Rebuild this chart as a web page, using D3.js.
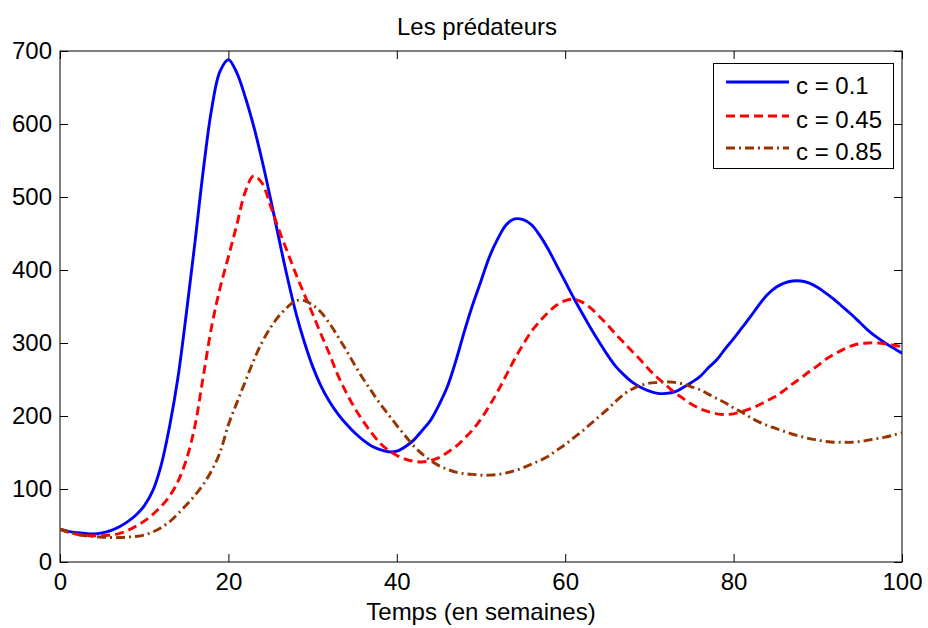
<!DOCTYPE html>
<html><head><meta charset="utf-8">
<script src="https://cdn.jsdelivr.net/npm/d3@7/dist/d3.min.js"></script>
<style>
body{margin:0;background:#fff}
text{font-family:"Liberation Sans",Arial,Helvetica,sans-serif}
</style>
</head><body>
<svg id="chart" width="928" height="628"></svg>
<script>
const weeks = [0,1,2,3,4,5,6,7,8,9,10,11,12,13,14,15,16,17,18,19,20,21,22,23,24,25,26,27,28,29,30,31,32,33,34,35,36,37,38,39,40,41,42,43,44,45,46,47,48,49,50,51,52,53,54,55,56,57,58,59,60,61,62,63,64,65,66,67,68,69,70,71,72,73,74,75,76,77,78,79,80,81,82,83,84,85,86,87,88,89,90,91,92,93,94,95,96,97,98,99,100];
const c010 = [45,42,40,39,38.5,40,43,48,55,64,77,97,132,185,252,340,435,535,620,672,688,670,637,597,550,498,443,390,342,302,268,241,220,203,189,177,167,159,154,151,152,158,167,180,194,215,240,275,315,352,385,418,443,462,470,469,462,447,428,406,384,362,341,321,302,284,268,256,246,239,234,231,231,233,239,246,254,266,277,292,306,321,336,352,366,376,382,385,385,382,376,368,359,349,339,328,317,308,300,293,286];
const c045 = [45,41,38,36.5,36,36,37,39,43,49,56,65,76,90,110,140,185,253,322,375,418,462,507,529,519,488,455,425,395,367,340,312,285,256,232,211,193,177,163,153,146,141,138,137,139,143,150,158,169,181,196,214,234,256,278,298,316,330,342,352,358,360,356,348,337,325,312,300,288,276,263,252,242,232,224,216,210,206,203,202,203,206,210,215,221,227,235,244,252,261,269,278,285,291,296,299,300,300,299,297,295];
const c085 = [45,41,38,36,35,34,33.5,33.5,34,35,37,41,47,55,66,78,91,106,125,150,188,218,247,276,301,321,337,349,358,358,352,342,327,309,290,270,251,234,217,202,187,173,159,148,139,132,127,123,121,120,119,119,120,122,125,129,134,139,145,153,161,170,179,189,199,209,220,230,237,242,245,246,247,246,244,240,236,230,224,218,211,205,198,192,187,183,179,175,172,169,167,165,164,164,164,165,167,169,171,174,177];
const seriesNames = ["c = 0.1","c = 0.45","c = 0.85"];
const xTicks = [0,20,40,60,80,100];
const yTicks = [0,100,200,300,400,500,600,700];
const titleText = "Les prédateurs";
const xLabel = "Temps (en semaines)";

const series = [
  {name: seriesNames[0], values: c010, color: "#0000ff", dash: null},
  {name: seriesNames[1], values: c045, color: "#ff0000", dash: "9,5"},
  {name: seriesNames[2], values: c085, color: "#993300", dash: "9,4,2,4"}
];

const L = 60, R = 902, T = 51, B = 562;
const svg = d3.select("#chart");
const x = d3.scaleLinear().domain([0,100]).range([L,R]);
const y = d3.scaleLinear().domain([0,700]).range([B,T]);

svg.append("defs").append("clipPath").attr("id","clip")
  .append("rect").attr("x",L).attr("y",T).attr("width",R-L).attr("height",B-T);

const fs = 24;
const gB = svg.append("g").attr("transform",`translate(0,${B})`)
  .call(d3.axisBottom(x).tickValues(xTicks).tickSizeInner(-8).tickSizeOuter(0).tickPadding(11));
const gL = svg.append("g").attr("transform",`translate(${L},0)`)
  .call(d3.axisLeft(y).tickValues(yTicks).tickSizeInner(-8).tickSizeOuter(0).tickPadding(8));
const gT = svg.append("g").attr("transform",`translate(0,${T})`)
  .call(d3.axisTop(x).tickValues(xTicks).tickSizeInner(-8).tickSizeOuter(0).tickFormat(""));
const gR = svg.append("g").attr("transform",`translate(${R},0)`)
  .call(d3.axisRight(y).tickValues(yTicks).tickSizeInner(-8).tickSizeOuter(0).tickFormat(""));
[gB,gL,gT,gR].forEach(g=>{
  g.selectAll(".domain").remove();
  g.selectAll("line").attr("stroke","#000").attr("stroke-width",1);
  g.selectAll("text").attr("font-size",fs).attr("fill","#000")
    .style("font-family",'"Liberation Sans",Arial,sans-serif');
});
svg.append("rect").attr("x",L).attr("y",T).attr("width",R-L).attr("height",B-T)
  .attr("fill","none").attr("stroke","#000").attr("stroke-width",1);

const line = d3.line().x((d,i)=>x(weeks[i])).y(d=>y(d)).curve(d3.curveCatmullRom.alpha(0.5));
const gLines = svg.append("g").attr("clip-path","url(#clip)");
series.forEach(s=>{
  gLines.append("path").datum(s.values).attr("d",line)
    .attr("fill","none").attr("stroke",s.color).attr("stroke-width",2.9)
    .attr("stroke-dasharray",s.dash).attr("stroke-linejoin","round");
});

svg.append("text").attr("x",477).attr("y",35).attr("text-anchor","middle")
  .attr("font-size",fs).text(titleText);
svg.append("text").attr("x",481).attr("y",620).attr("text-anchor","middle")
  .attr("font-size",fs).text(xLabel);

const lg = svg.append("g");
lg.append("rect").attr("x",713.5).attr("y",63.5).attr("width",180).attr("height",105)
  .attr("fill","#fff").attr("stroke","#000").attr("stroke-width",1);
const rowsY = [82,116,148];
series.forEach((s,i)=>{
  lg.append("line").attr("x1",726).attr("x2",789).attr("y1",rowsY[i]).attr("y2",rowsY[i])
    .attr("stroke",s.color).attr("stroke-width",2.9).attr("stroke-dasharray",s.dash);
  lg.append("text").attr("x",796).attr("y",rowsY[i]+12).attr("font-size",fs).text(s.name);
});
</script>
</body></html>
